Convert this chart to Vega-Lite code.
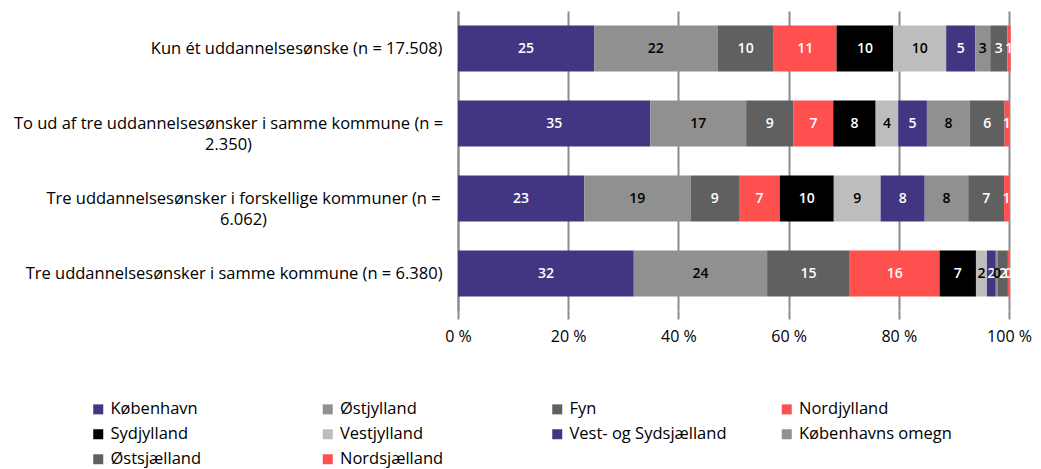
{
  "$schema": "https://vega.github.io/schema/vega-lite/v6.json",
  "width": 551,
  "height": 300,
  "autosize": "none",
  "padding": {"left": 458, "top": 11, "right": 32, "bottom": 158},
  "background": "white",
  "config": {
    "font": "Open Sans",
    "view": {"stroke": null},
    "axis": {"labelFont": "Open Sans", "labelColor": "#000000"},
    "legend": {"labelFont": "Open Sans"}
  },
  "data": {
    "values": [
      {"kategori": "Kun ét uddannelsesønske (n = 17.508)", "region": "København", "orden": 1, "andel": 24.7},
      {"kategori": "Kun ét uddannelsesønske (n = 17.508)", "region": "Østjylland", "orden": 2, "andel": 22.4},
      {"kategori": "Kun ét uddannelsesønske (n = 17.508)", "region": "Fyn", "orden": 3, "andel": 10.2},
      {"kategori": "Kun ét uddannelsesønske (n = 17.508)", "region": "Nordjylland", "orden": 4, "andel": 11.4},
      {"kategori": "Kun ét uddannelsesønske (n = 17.508)", "region": "Sydjylland", "orden": 5, "andel": 10.3},
      {"kategori": "Kun ét uddannelsesønske (n = 17.508)", "region": "Vestjylland", "orden": 6, "andel": 9.6},
      {"kategori": "Kun ét uddannelsesønske (n = 17.508)", "region": "Vest- og Sydsjælland", "orden": 7, "andel": 5.3},
      {"kategori": "Kun ét uddannelsesønske (n = 17.508)", "region": "Københavns omegn", "orden": 8, "andel": 2.7},
      {"kategori": "Kun ét uddannelsesønske (n = 17.508)", "region": "Østsjælland", "orden": 9, "andel": 3.1},
      {"kategori": "Kun ét uddannelsesønske (n = 17.508)", "region": "Nordsjælland", "orden": 10, "andel": 0.6},
      {"kategori": "To ud af tre uddannelsesønsker i samme kommune (n = 2.350)", "region": "København", "orden": 1, "andel": 34.9},
      {"kategori": "To ud af tre uddannelsesønsker i samme kommune (n = 2.350)", "region": "Østjylland", "orden": 2, "andel": 17.4},
      {"kategori": "To ud af tre uddannelsesønsker i samme kommune (n = 2.350)", "region": "Fyn", "orden": 3, "andel": 8.6},
      {"kategori": "To ud af tre uddannelsesønsker i samme kommune (n = 2.350)", "region": "Nordjylland", "orden": 4, "andel": 7.2},
      {"kategori": "To ud af tre uddannelsesønsker i samme kommune (n = 2.350)", "region": "Sydjylland", "orden": 5, "andel": 7.7},
      {"kategori": "To ud af tre uddannelsesønsker i samme kommune (n = 2.350)", "region": "Vestjylland", "orden": 6, "andel": 4.1},
      {"kategori": "To ud af tre uddannelsesønsker i samme kommune (n = 2.350)", "region": "Vest- og Sydsjælland", "orden": 7, "andel": 5.2},
      {"kategori": "To ud af tre uddannelsesønsker i samme kommune (n = 2.350)", "region": "Københavns omegn", "orden": 8, "andel": 7.8},
      {"kategori": "To ud af tre uddannelsesønsker i samme kommune (n = 2.350)", "region": "Østsjælland", "orden": 9, "andel": 6.3},
      {"kategori": "To ud af tre uddannelsesønsker i samme kommune (n = 2.350)", "region": "Nordsjælland", "orden": 10, "andel": 0.8},
      {"kategori": "Tre uddannelsesønsker i forskellige kommuner (n = 6.062)", "region": "København", "orden": 1, "andel": 22.9},
      {"kategori": "Tre uddannelsesønsker i forskellige kommuner (n = 6.062)", "region": "Østjylland", "orden": 2, "andel": 19.3},
      {"kategori": "Tre uddannelsesønsker i forskellige kommuner (n = 6.062)", "region": "Fyn", "orden": 3, "andel": 8.8},
      {"kategori": "Tre uddannelsesønsker i forskellige kommuner (n = 6.062)", "region": "Nordjylland", "orden": 4, "andel": 7.4},
      {"kategori": "Tre uddannelsesønsker i forskellige kommuner (n = 6.062)", "region": "Sydjylland", "orden": 5, "andel": 9.8},
      {"kategori": "Tre uddannelsesønsker i forskellige kommuner (n = 6.062)", "region": "Vestjylland", "orden": 6, "andel": 8.5},
      {"kategori": "Tre uddannelsesønsker i forskellige kommuner (n = 6.062)", "region": "Vest- og Sydsjælland", "orden": 7, "andel": 8.0},
      {"kategori": "Tre uddannelsesønsker i forskellige kommuner (n = 6.062)", "region": "Københavns omegn", "orden": 8, "andel": 7.9},
      {"kategori": "Tre uddannelsesønsker i forskellige kommuner (n = 6.062)", "region": "Østsjælland", "orden": 9, "andel": 6.5},
      {"kategori": "Tre uddannelsesønsker i forskellige kommuner (n = 6.062)", "region": "Nordsjælland", "orden": 10, "andel": 0.9},
      {"kategori": "Tre uddannelsesønsker i samme kommune (n = 6.380)", "region": "København", "orden": 1, "andel": 31.9},
      {"kategori": "Tre uddannelsesønsker i samme kommune (n = 6.380)", "region": "Østjylland", "orden": 2, "andel": 24.2},
      {"kategori": "Tre uddannelsesønsker i samme kommune (n = 6.380)", "region": "Fyn", "orden": 3, "andel": 15.0},
      {"kategori": "Tre uddannelsesønsker i samme kommune (n = 6.380)", "region": "Nordjylland", "orden": 4, "andel": 16.3},
      {"kategori": "Tre uddannelsesønsker i samme kommune (n = 6.380)", "region": "Sydjylland", "orden": 5, "andel": 6.6},
      {"kategori": "Tre uddannelsesønsker i samme kommune (n = 6.380)", "region": "Vestjylland", "orden": 6, "andel": 2.0},
      {"kategori": "Tre uddannelsesønsker i samme kommune (n = 6.380)", "region": "Vest- og Sydsjælland", "orden": 7, "andel": 1.6},
      {"kategori": "Tre uddannelsesønsker i samme kommune (n = 6.380)", "region": "Københavns omegn", "orden": 8, "andel": 0.4},
      {"kategori": "Tre uddannelsesønsker i samme kommune (n = 6.380)", "region": "Østsjælland", "orden": 9, "andel": 1.8},
      {"kategori": "Tre uddannelsesønsker i samme kommune (n = 6.380)", "region": "Nordsjælland", "orden": 10, "andel": 0.2}
    ]
  },
  "encoding": {
    "y": {
      "field": "kategori",
      "type": "nominal",
      "sort": null,
      "scale": {"paddingInner": 0.387, "paddingOuter": 0.1935},
      "axis": {
        "title": null,
        "ticks": false,
        "labelFontSize": 16.5,
        "labelAlign": {"condition": {"test": "length(datum.label) > 52", "value": "center"}, "value": "right"},
        "labelPadding": {"condition": [
          {"test": "indexof(datum.label, '2.350') >= 0", "value": 230},
          {"test": "indexof(datum.label, '6.062') >= 0", "value": 215}
        ], "value": 16},
        "labelLimit": 600,
        "labelLineHeight": 21,
        "labelExpr": "length(datum.label) > 52 ? [slice(datum.label, 0, lastindexof(datum.label, ' ')), slice(datum.label, lastindexof(datum.label, ' ') + 1)] : datum.label",
        "domainColor": "#8c8c8c",
        "domainWidth": 2
      }
    },
    "x": {
      "field": "andel",
      "type": "quantitative",
      "stack": "zero",
      "scale": {"domain": [0, 100], "nice": false},
      "axis": {
        "title": null,
        "values": [0, 20, 40, 60, 80, 100],
        "labelExpr": "datum.value + ' %'",
        "labelFontSize": 16,
        "labelPadding": 9,
        "labelFlush": false,
        "domain": false,
        "grid": true,
        "gridColor": "#8c8c8c",
        "gridWidth": 2,
        "ticks": true,
        "tickSize": 8,
        "tickColor": "#8c8c8c",
        "tickWidth": 2
      }
    },
    "order": {"field": "orden", "type": "quantitative"}
  },
  "layer": [
    {
      "mark": {"type": "bar"},
      "encoding": {
        "color": {
          "field": "region",
          "type": "nominal",
          "scale": {
            "domain": ["København", "Østjylland", "Fyn", "Nordjylland", "Sydjylland", "Vestjylland", "Vest- og Sydsjælland", "Københavns omegn", "Østsjælland", "Nordsjælland"],
            "range": ["#423682", "#909090", "#606060", "#ff5050", "#000000", "#bdbdbd", "#423682", "#909090", "#606060", "#ff5050"]
          },
          "legend": {
            "title": null,
            "orient": "none",
            "legendX": -368,
            "legendY": 390,
            "direction": "horizontal",
            "columns": 4,
            "gridAlign": "all",
            "columnPadding": 51.5,
            "rowPadding": 8,
            "symbolType": "square",
            "symbolSize": 100,
            "symbolStrokeWidth": 0,
            "labelFontSize": 16.5,
            "labelOffset": 4,
            "labelLimit": 300,
            "labelColor": "#000000"
          }
        }
      }
    },
    {
      "mark": {"type": "text", "fontSize": 14, "fontWeight": 600, "align": "center", "baseline": "middle"},
      "encoding": {
        "x": {"field": "andel", "type": "quantitative", "stack": "zero", "bandPosition": 0.5},
        "text": {"field": "andel", "type": "quantitative", "format": ".0f"},
        "color": {
          "condition": {"test": "indexof(['Østjylland', 'Vestjylland', 'Københavns omegn'], datum.region) >= 0", "value": "#000000"},
          "value": "#ffffff"
        }
      }
    }
  ]
}
